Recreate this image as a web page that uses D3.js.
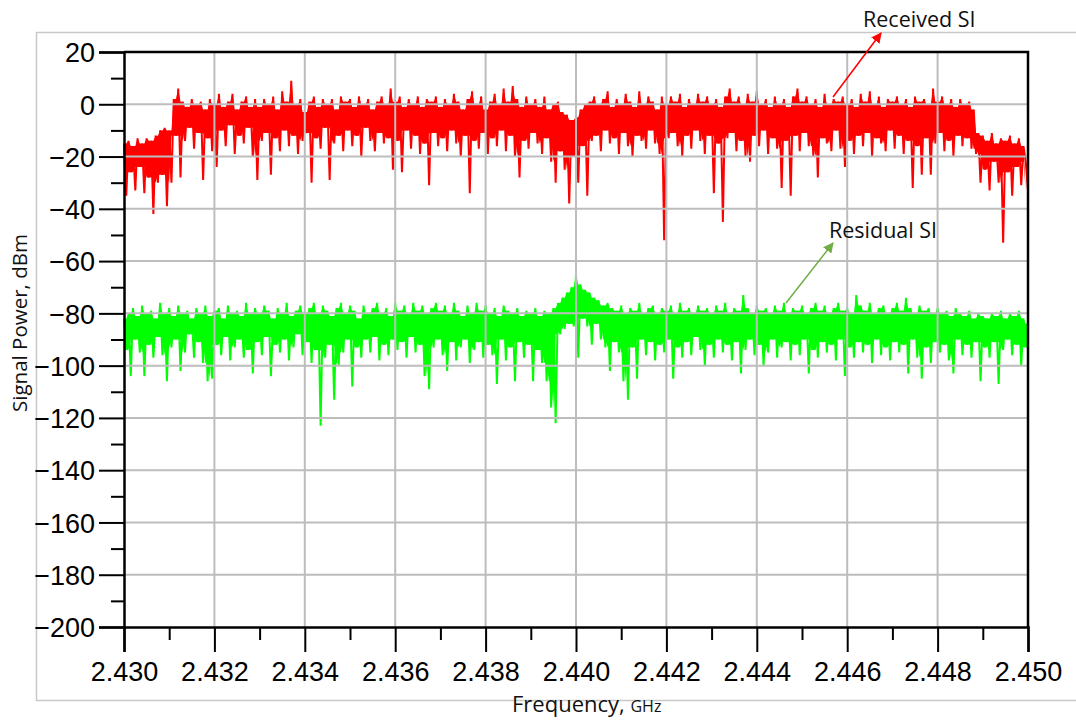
<!DOCTYPE html>
<html>
<head>
<meta charset="utf-8">
<script src="https://cdn.jsdelivr.net/npm/d3@7"></script>
<style>
  body { margin: 0; background: #fff; }
  svg { display: block; }
</style>
</head>
<body>
<svg width="1076" height="722"></svg>
<script>
// frequency axis: 401 points from 2.430 to 2.450 GHz
var fStart = 2.430, fStep = 0.00005;

// received SI, dBm (alternating peaks / troughs)
var receivedSI = [
  -15,-35,-14,-26,-16,-33,-13,-24,-15,-34,-13,-28,-14,-42,-12,-30,-10,-27,-9,-39,
  -10,-30,2,-12,6,-28,1,-14,-1,-9,2,-17,0,-11,1,-29,-2,-13,2,-18,
  0,-24,4,-10,-1,-16,1,-8,4,-19,-2,-12,1,-15,3,-9,-1,-20,2,-29,
  -1,-14,2,-11,0,-27,3,-13,-2,-18,5,-10,1,-16,9,-12,0,-19,2,-14,
  -3,-11,1,-30,3,-13,-1,-17,2,-9,0,-29,2,-15,-2,-12,3,-18,1,-10,
  2,-16,-1,-12,3,-20,0,-9,2,-14,-2,-18,1,-11,3,-15,0,-13,6,-25,
  1,-14,3,-26,-1,-10,2,-17,0,-12,3,-19,-1,-15,2,-31,1,-11,3,-16,
  -1,-13,2,-18,0,-10,4,-15,1,-20,-2,-12,2,-34,5,-14,0,-17,3,-11,
  -2,-19,1,-13,4,-16,0,-10,6,-18,1,-12,7,-20,2,-28,-1,-14,3,-17,
  0,-11,2,-15,-1,-19,3,-13,-2,-22,0,-30,1,-18,-3,-25,-4,-38,-6,-20,
  -5,-30,-2,-16,0,-35,1,-14,3,-12,0,-18,2,-10,5,-15,-1,-13,2,-19,
  0,-11,4,-16,1,-20,-1,-12,5,-14,0,-17,3,-10,1,-15,-2,-19,3,-52,
  0,-13,3,-11,1,-16,4,-20,-1,-12,2,-17,0,-10,4,-14,1,-19,3,-12,
  0,-34,2,-15,-1,-45,3,-13,6,-11,1,-18,3,-14,0,-20,4,-22,1,-12,
  5,-16,0,-10,2,-19,-1,-13,3,-17,0,-32,2,-14,-1,-35,3,-12,6,-18,
  1,-11,3,-16,0,-20,2,-28,-1,-13,4,-15,0,-18,2,-10,1,-17,3,-24,
  0,-14,2,-19,-1,-12,4,-16,1,-11,5,-20,0,-13,3,-15,-1,-18,2,-10,
  1,-17,3,-12,0,-19,2,-14,-1,-32,3,-16,1,-27,2,-13,0,-27,6,-15,
  1,-11,3,-18,0,-14,2,-20,-1,-12,2,-16,0,-13,1,-17,-2,-19,-11,-30,
  -12,-25,-14,-33,-11,-22,-15,-30,-13,-53,-14,-26,-12,-35,-15,-24,-13,-31,-16,-22,
  -33
];

// residual SI, dBm
var residualSI = [
  -82,-94,-80,-104,-78,-90,-81,-95,-77,-104,-80,-92,-79,-97,-82,-89,-76,-96,-80,-106,
  -78,-93,-81,-90,-77,-102,-80,-95,-79,-88,-82,-97,-78,-91,-80,-99,-77,-106,-81,-105,
  -79,-92,-78,-96,-82,-89,-77,-98,-80,-93,-79,-90,-81,-97,-76,-94,-80,-103,-78,-91,
  -80,-96,-77,-89,-79,-104,-82,-92,-78,-95,-80,-90,-76,-98,-81,-93,-79,-88,-77,-96,
  -80,-91,-78,-99,-76,-94,-80,-123,-77,-97,-79,-92,-81,-113,-78,-100,-76,-95,-80,-90,
  -77,-108,-79,-93,-82,-97,-77,-90,-80,-95,-78,-89,-76,-98,-80,-92,-78,-96,-81,-90,
  -76,-94,-79,-91,-77,-97,-80,-89,-76,-95,-79,-92,-77,-104,-80,-109,-78,-93,-76,-90,
  -79,-96,-77,-102,-80,-91,-76,-98,-79,-93,-81,-90,-77,-99,-80,-94,-76,-91,-79,-97,
  -77,-92,-80,-96,-78,-107,-81,-90,-77,-98,-79,-93,-80,-106,-78,-91,-81,-97,-79,-92,
  -80,-106,-78,-94,-81,-99,-79,-106,-80,-116,-78,-122,-76,-88,-74,-86,-72,-84,-70,-85,
  -65,-97,-69,-82,-71,-85,-72,-92,-74,-84,-75,-90,-77,-93,-76,-102,-78,-91,-79,-95,
  -77,-106,-80,-113,-78,-93,-79,-105,-76,-90,-80,-96,-78,-91,-77,-98,-80,-92,-78,-95,
  -79,-90,-77,-105,-80,-93,-76,-97,-79,-91,-78,-96,-80,-89,-77,-94,-79,-100,-78,-92,
  -80,-97,-77,-90,-79,-95,-76,-92,-80,-98,-78,-91,-79,-103,-73,-94,-78,-90,-80,-96,
  -77,-92,-79,-100,-78,-95,-80,-90,-77,-97,-79,-93,-76,-91,-80,-98,-78,-92,-79,-96,
  -77,-90,-80,-103,-78,-94,-76,-97,-79,-91,-77,-95,-80,-92,-78,-98,-76,-90,-79,-104,
  -78,-93,-80,-97,-73,-91,-77,-95,-79,-92,-76,-99,-80,-90,-78,-96,-77,-93,-80,-98,
  -78,-91,-76,-95,-79,-92,-74,-103,-78,-90,-80,-97,-77,-105,-79,-93,-78,-99,-80,-91,
  -78,-95,-80,-92,-79,-98,-81,-103,-78,-90,-80,-96,-81,-92,-79,-97,-82,-91,-80,-106,
  -81,-93,-82,-97,-80,-91,-81,-107,-79,-94,-82,-90,-80,-96,-81,-92,-79,-100,-82,-93,
  -84
];

var xTicks = [2.430, 2.432, 2.434, 2.436, 2.438, 2.440, 2.442, 2.444, 2.446, 2.448, 2.450];
var yTicks = [20, 0, -20, -40, -60, -80, -100, -120, -140, -160, -180, -200];

var svg = d3.select("svg");
var plotL = 124, plotR = 1028, plotT = 52, plotB = 627;

var x = d3.scaleLinear().domain([2.430, 2.450]).range([plotL, plotR]);
var y = d3.scaleLinear().domain([-200, 20]).range([plotB, plotT]);

// outer frame of the figure
svg.append("rect")
  .attr("x", 36.5).attr("y", 32.5)
  .attr("width", 1100).attr("height", 668)
  .attr("fill", "none").attr("stroke", "#c8c8c8").attr("stroke-width", 1.5);

var line = d3.line()
  .x(function(d, i) { return x(fStart + i * fStep); })
  .y(function(d) { return y(d); });

// dense core of a noisy trace: between the lower of the nearby peaks
// and the shallowest nearby trough (even index = peak, odd = trough)
function core(vals) {
  return vals.map(function(v, i) {
    var hi = Infinity, lo = -Infinity;
    for (var j = i - 1; j <= i + 1; j++) {
      if (j >= 0 && j < vals.length && j % 2 == 0) hi = Math.min(hi, vals[j]);
    }
    for (var k = i - 2; k <= i + 2; k++) {
      if (k >= 0 && k < vals.length && k % 2 == 1) lo = Math.max(lo, vals[k]);
    }
    if (lo > hi) lo = hi;
    return { i: i, hi: hi, lo: lo };
  });
}

var area = d3.area()
  .x(function(d) { return x(fStart + d.i * fStep); })
  .y0(function(d) { return y(d.lo); })
  .y1(function(d) { return y(d.hi); });

function trace(vals, color) {
  svg.append("path").datum(core(vals))
    .attr("d", area)
    .attr("fill", color);
  svg.append("path").datum(vals)
    .attr("d", line)
    .attr("fill", "none").attr("stroke", color)
    .attr("stroke-width", 2).attr("stroke-linejoin", "bevel");
}
trace(receivedSI, "#ff0000");
trace(residualSI, "#00ff00");

// grid sits on top of the traces
var grid = svg.append("g");
grid.selectAll("line.h")
  .data(yTicks.filter(function(d) { return d > -200 && d < 20; }))
  .enter().append("line")
  .attr("x1", plotL).attr("x2", plotR)
  .attr("y1", function(d) { return y(d); }).attr("y2", function(d) { return y(d); })
  .attr("stroke", "#bdbdbd").attr("stroke-width", 2);
grid.selectAll("line.v")
  .data(xTicks.slice(1, -1))
  .enter().append("line")
  .attr("y1", plotT).attr("y2", plotB)
  .attr("x1", function(d) { return x(d); }).attr("x2", function(d) { return x(d); })
  .attr("stroke", "#bdbdbd").attr("stroke-width", 2);

// frame top and right
svg.append("path")
  .attr("d", "M" + plotL + "," + plotT + "H" + plotR + "V" + plotB)
  .attr("fill", "none").attr("stroke", "#000").attr("stroke-width", 2.5);

var tickFont = "'Liberation Sans', Arial, sans-serif";

// y axis
var yMinor = d3.range(-190, 20, 20);
svg.append("g")
  .attr("transform", "translate(" + plotL + ",0)")
  .call(d3.axisLeft(y).tickValues(yMinor).tickSize(13).tickFormat(""))
  .call(function(g) { g.select(".domain").remove(); })
  .selectAll("line").attr("stroke", "#000").attr("stroke-width", 2);
var gy = svg.append("g")
  .attr("transform", "translate(" + plotL + ",0)")
  .call(d3.axisLeft(y).tickValues(yTicks).tickSize(25).tickPadding(4).tickFormat(d3.format("d")));
gy.select(".domain").attr("stroke", "#000").attr("stroke-width", 2.5);
gy.selectAll("line").attr("stroke", "#000").attr("stroke-width", 2);
gy.selectAll("text").attr("font-family", tickFont).attr("font-size", 27).attr("fill", "#000")
  .attr("dy", "0.36em");

// x axis
var xMinor = d3.range(0, 10).map(function(i) { return 2.431 + i * 0.002; });
svg.append("g")
  .attr("transform", "translate(0," + plotB + ")")
  .call(d3.axisBottom(x).tickValues(xMinor).tickSize(13).tickFormat(""))
  .call(function(g) { g.select(".domain").remove(); })
  .selectAll("line").attr("stroke", "#000").attr("stroke-width", 2);
var gx = svg.append("g")
  .attr("transform", "translate(0," + plotB + ")")
  .call(d3.axisBottom(x).tickValues(xTicks).tickSize(25).tickPadding(10).tickFormat(d3.format(".3f")));
gx.select(".domain").attr("stroke", "#000").attr("stroke-width", 2.5);
gx.selectAll("line").attr("stroke", "#000").attr("stroke-width", 2);
gx.selectAll("text").attr("font-family", tickFont).attr("font-size", 27).attr("fill", "#000");

var labelFont = "'Open Sans', 'Noto Sans', sans-serif";

// axis titles
svg.append("text")
  .attr("transform", "translate(27,323) rotate(-90)")
  .attr("text-anchor", "middle")
  .attr("font-family", labelFont).attr("font-size", 20.5).attr("fill", "#111")
  .text("Signal Power, dBm");

var xt = svg.append("text")
  .attr("x", 512).attr("y", 712)
  .attr("font-family", labelFont).attr("font-size", 22).attr("fill", "#111");
xt.append("tspan").text("Frequency, ");
xt.append("tspan").attr("font-size", 16).text("GHz");

// annotations
var defs = svg.append("defs");
function marker(id, color) {
  defs.append("marker")
    .attr("id", id).attr("viewBox", "0 0 10 10")
    .attr("refX", 9).attr("refY", 5)
    .attr("markerWidth", 7).attr("markerHeight", 7)
    .attr("orient", "auto")
    .append("path").attr("d", "M0,0L10,5L0,10Z").attr("fill", color);
}
marker("arrRed", "#ff0000");
marker("arrGreen", "#70ad47");

svg.append("line")
  .attr("x1", 833).attr("y1", 97).attr("x2", 881).attr("y2", 33)
  .attr("stroke", "#ff0000").attr("stroke-width", 1.5)
  .attr("marker-end", "url(#arrRed)");
svg.append("line")
  .attr("x1", 786).attr("y1", 303).attr("x2", 833).attr("y2", 243)
  .attr("stroke", "#70ad47").attr("stroke-width", 1.5)
  .attr("marker-end", "url(#arrGreen)");

svg.append("text")
  .attr("x", 863).attr("y", 27)
  .attr("font-family", labelFont).attr("font-size", 21.5).attr("fill", "#111")
  .text("Received SI");
svg.append("text")
  .attr("x", 829).attr("y", 238)
  .attr("font-family", labelFont).attr("font-size", 21.5).attr("fill", "#111")
  .text("Residual SI");
</script>
</body>
</html>
